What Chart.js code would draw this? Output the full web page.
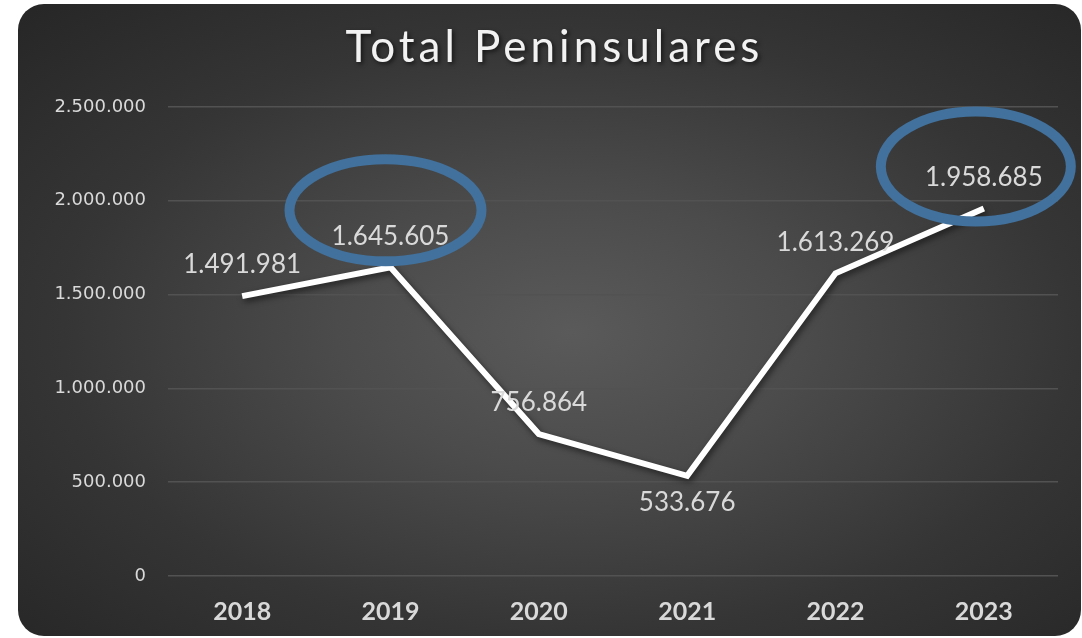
<!DOCTYPE html>
<html>
<head>
<meta charset="utf-8">
<script src="https://cdn.jsdelivr.net/npm/chart.js@4.4.1/dist/chart.umd.min.js"></script>
<style>
    html, body { margin: 0; padding: 0; background: #ffffff; }
    .card {
        position: absolute;
        left: 18px;
        top: 4px;
        width: 1063px;
        height: 632px;
        border-radius: 26px;
        overflow: hidden;
        background: radial-gradient(ellipse farthest-corner at 52% 52%, #5a5a5a 0%, #4b4b4b 30%, #353535 65%, #262626 100%);
    }
</style>
</head>
<body>
<div class="card">
    <canvas id="chart" width="1063" height="632"></canvas>
</div>
<script>
const titleText = 'Total Peninsulares';
const years = ['2018', '2019', '2020', '2021', '2022', '2023'];
const totals = [1491981, 1645605, 756864, 533676, 1613269, 1958685];
const highlighted = ['2019', '2023'];

const fmt = v => String(Math.round(v)).replace(/\B(?=(\d{3})+(?!\d))/g, '.');

const overlay = {
    id: 'overlay',
    beforeDatasetsDraw(chart) {
        chart.ctx.save();
        chart.ctx.shadowColor = 'rgba(0,0,0,0.55)';
        chart.ctx.shadowBlur = 6;
        chart.ctx.shadowOffsetX = 2;
        chart.ctx.shadowOffsetY = 3;
    },
    afterDatasetsDraw(chart) {
        const ctx = chart.ctx;
        ctx.restore();
        const meta = chart.getDatasetMeta(0);

        // title
        ctx.save();
        ctx.font = '44px Lato';
        ctx.letterSpacing = '4px';
        ctx.fillStyle = '#f2f2f2';
        ctx.textAlign = 'center';
        ctx.textBaseline = 'middle';
        ctx.shadowColor = 'rgba(0,0,0,0.6)';
        ctx.shadowBlur = 4;
        ctx.shadowOffsetX = 2;
        ctx.shadowOffsetY = 2;
        ctx.fillText(titleText, chart.width / 2 + 5, 44);
        ctx.restore();

        // value labels
        ctx.save();
        ctx.font = '26px Lato';
        ctx.fillStyle = '#d9d9d9';
        ctx.textAlign = 'center';
        ctx.textBaseline = 'middle';
        meta.data.forEach((pt, i) => {
            const below = i > 0 && i < totals.length - 1 &&
                totals[i] < totals[i - 1] && totals[i] < totals[i + 1];
            ctx.fillText(fmt(totals[i]), pt.x, pt.y + (below ? 27 : -31));
        });
        ctx.restore();

        // highlight rings
        ctx.save();
        ctx.strokeStyle = '#41719c';
        ctx.lineWidth = 10;
        highlighted.forEach(year => {
            const i = years.indexOf(year);
            const pt = meta.data[i];
            const last = i === years.length - 1;
            ctx.beginPath();
            ctx.ellipse(pt.x + (last ? -8 : -5), pt.y + (last ? -42 : -57),
                last ? 95 : 96, last ? 55 : 51, 0, 0, Math.PI * 2);
            ctx.stroke();
        });
        ctx.restore();
    },
};

new Chart(document.getElementById('chart'), {
    type: 'line',
    data: {
        labels: years,
        datasets: [{
            data: totals,
            borderColor: '#ffffff',
            borderWidth: 6,
            pointRadius: 0,
            tension: 0,
            borderJoinStyle: 'miter',
        }],
    },
    options: {
        responsive: false,
        animation: false,
        layout: {
            padding: { top: 103, right: 23, bottom: 13, left: 0 },
        },
        plugins: {
            legend: { display: false },
            tooltip: { enabled: false },
        },
        scales: {
            x: {
                offset: true,
                afterFit(scale) { scale.height = 47; },
                grid: { display: false, drawTicks: false },
                border: { display: false },
                ticks: {
                    color: '#d9d9d9',
                    padding: 21,
                    font: { family: 'Lato', size: 25, weight: 'bold' },
                },
            },
            y: {
                min: 0,
                max: 2500000,
                afterFit(scale) { scale.width = 150; },
                grid: { color: '#525252', lineWidth: 1.5, drawTicks: false },
                border: { display: false },
                ticks: {
                    stepSize: 500000,
                    color: '#d9d9d9',
                    padding: 22,
                    font: { family: 'DejaVu Sans', size: 18 },
                    callback: v => fmt(v),
                },
            },
        },
    },
    plugins: [overlay],
});
</script>
</body>
</html>
